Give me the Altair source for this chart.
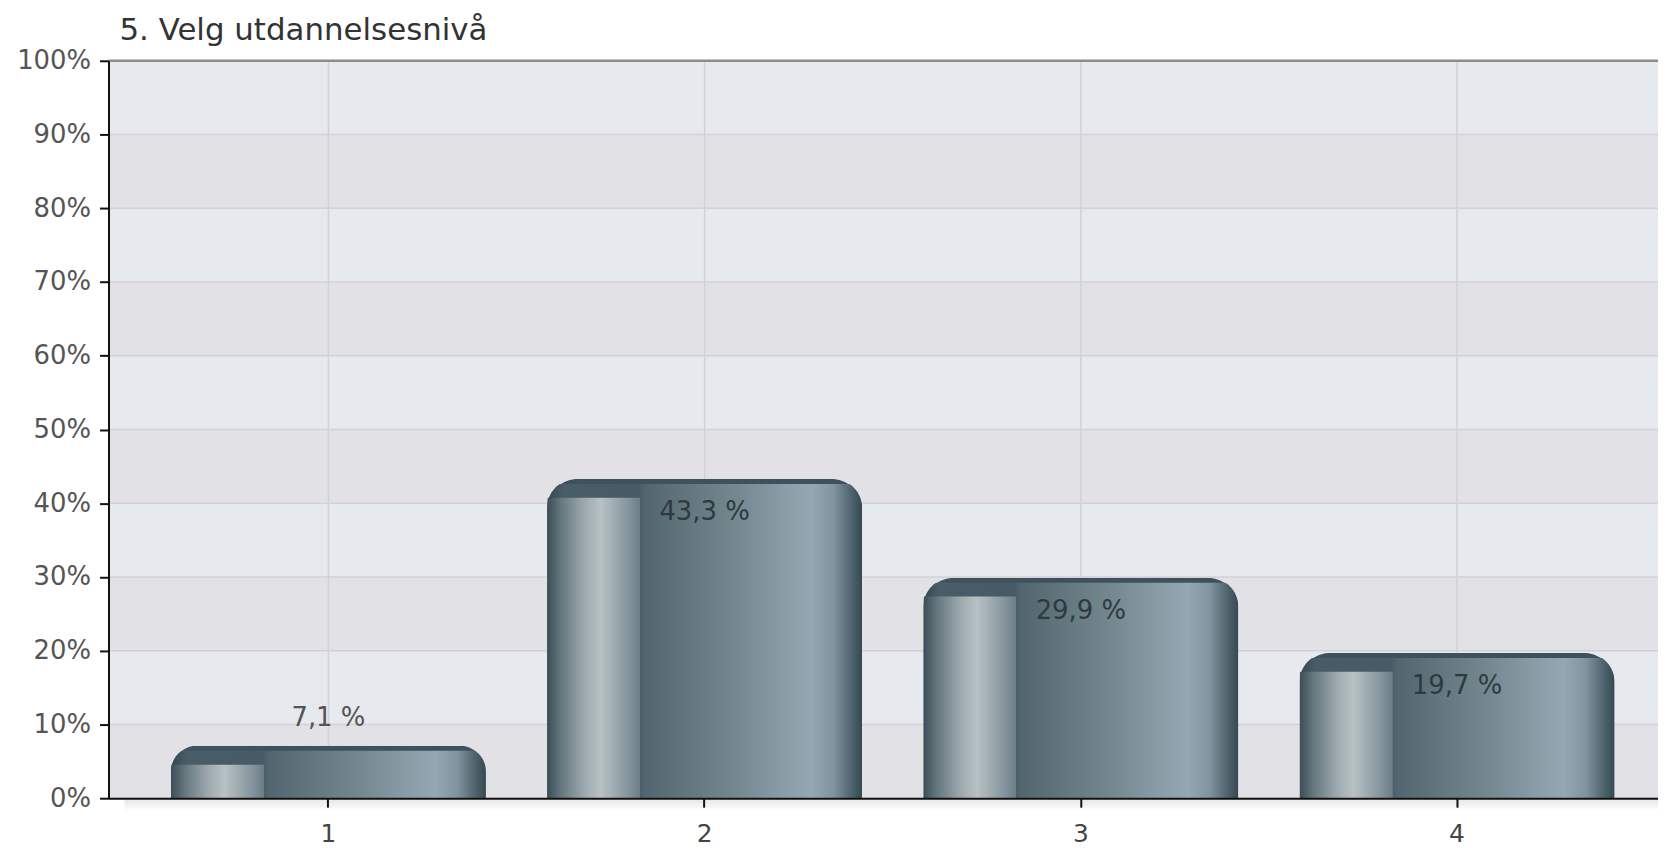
import altair as alt
import pandas as pd

# ---- data ----
categories = ["1", "2", "3", "4"]
values = [7.1, 43.3, 29.9, 19.7]
y_ticks = [0, 10, 20, 30, 40, 50, 60, 70, 80, 90, 100]
stripe_lo = [0, 10, 20, 30, 40, 50, 60, 70, 80, 90]
stripe_hi = [10, 20, 30, 40, 50, 60, 70, 80, 90, 100]
stripe_shade = ["dark", "light", "dark", "light", "dark", "light", "dark", "light", "dark", "light"]
title_text = "5. Velg utdannelsesnivå"

FONT = "DejaVu Sans"
W, H = 1557, 741

bars_df = pd.DataFrame({"cat": categories, "value": values})
stripes_df = pd.DataFrame({"lo": stripe_lo, "hi": stripe_hi, "shade": stripe_shade})
yticks_df = pd.DataFrame({"v": y_ticks})
top_df = pd.DataFrame({"v": [100]})
base_df = pd.DataFrame({"v": [0]})

xscale = alt.Scale(domain=categories, range=[0, 1576], paddingInner=0.163, paddingOuter=0.166)
yscale = alt.Scale(domain=[0, 100], nice=False, zero=True)

xaxis = alt.Axis(
    title=None, labelAngle=0, grid=False, domainColor="#111", domainWidth=2,
    tickColor="#111", tickSize=9, tickWidth=2, labelFontSize=25, labelFont=FONT,
    labelColor="#444", labelPadding=15, zindex=1, bandPosition=0.5,
)
yaxis = alt.Axis(
    title=None, values=y_ticks, labelExpr="datum.value + '%'", grid=False,
    domainColor="#111", domainWidth=2, tickColor="#111", tickSize=9, tickWidth=2,
    labelFontSize=26, labelFont=FONT, labelColor="#555", labelPadding=9, zindex=1,
)

stripes = alt.Chart(stripes_df).mark_rect().encode(
    y=alt.Y("lo:Q", scale=yscale, axis=yaxis),
    y2="hi:Q",
    x=alt.value(0),
    x2=alt.value(W),
    color=alt.Color("shade:N", scale=alt.Scale(domain=["light", "dark"], range=["#e6e9ee", "#e2e1e6"]), legend=None),
)

hgrid = alt.Chart(yticks_df).mark_rule(color="#d2d2d6", strokeWidth=1.5).encode(
    y=alt.Y("v:Q", scale=yscale),
)

vgrid = alt.Chart(bars_df).mark_rule(color="#d2d2d6", strokeWidth=1.5).encode(
    x=alt.X("cat:N", scale=xscale, sort=categories, axis=xaxis),
)

top_border = alt.Chart(top_df).mark_rule(color="#8c8c8c", strokeWidth=2.5).encode(
    y=alt.Y("v:Q", scale=yscale),
)

# soft shadow under the x axis line
shadow_grad = alt.Gradient(
    gradient="linear", x1=0, x2=0, y1=0, y2=1,
    stops=[alt.GradientStop(color="#e6e6e6", offset=0.0), alt.GradientStop(color="#ffffff", offset=1.0)],
)
axis_shadow = alt.Chart(base_df).mark_rect(color=shadow_grad, yOffset=1, y2Offset=13).encode(
    y=alt.Y("v:Q", scale=yscale),
    y2=alt.Y2("v:Q"),
    x=alt.value(16),
    x2=alt.value(W),
)

base = alt.Chart(bars_df).encode(
    x=alt.X("cat:N", scale=xscale, sort=categories),
    y=alt.Y("value:Q", scale=yscale),
)

main_grad = alt.Gradient(
    gradient="linear", x1=0, x2=1, y1=0, y2=0,
    stops=[
        alt.GradientStop(color="#34474f", offset=0.0),
        alt.GradientStop(color="#485d67", offset=0.05),
        alt.GradientStop(color="#465b65", offset=0.29),
        alt.GradientStop(color="#52666f", offset=0.31),
        alt.GradientStop(color="#63777f", offset=0.45),
        alt.GradientStop(color="#748890", offset=0.60),
        alt.GradientStop(color="#8a9ea8", offset=0.76),
        alt.GradientStop(color="#93a8b2", offset=0.84),
        alt.GradientStop(color="#7f949e", offset=0.91),
        alt.GradientStop(color="#536871", offset=0.96),
        alt.GradientStop(color="#354952", offset=1.0),
    ],
)
# lighter left "highlight" part: opaque over the left ~30% of the bar, transparent elsewhere
inner_grad = alt.Gradient(
    gradient="linear", x1=0, x2=1, y1=0, y2=0,
    stops=[
        alt.GradientStop(color="#3a4e57", offset=0.0),
        alt.GradientStop(color="#66787f", offset=0.045),
        alt.GradientStop(color="#9faaaf", offset=0.12),
        alt.GradientStop(color="#b8c2c5", offset=0.17),
        alt.GradientStop(color="#9ba8ad", offset=0.22),
        alt.GradientStop(color="#80909a", offset=0.265),
        alt.GradientStop(color="#6c7d86", offset=0.295),
        alt.GradientStop(color="rgba(108,125,134,0)", offset=0.2955),
        alt.GradientStop(color="rgba(108,125,134,0)", offset=1.0),
    ],
)

bar_dark = base.mark_bar(color="#3d525c", cornerRadiusTopLeft=31, cornerRadiusTopRight=31)
bar_main = base.mark_bar(color=main_grad, cornerRadiusTopLeft=29, cornerRadiusTopRight=29, yOffset=5)
bar_inner = base.mark_bar(color=inner_grad, yOffset=19, cornerRadiusTopLeft=24)

label_expr = "replace(format(datum.value, '.1f'), '.', ',') + ' %'"
labels_in = base.transform_filter("datum.value >= 15").transform_calculate(lbl=label_expr).mark_text(
    dy=33, baseline="middle", fontSize=26, font=FONT, color="#2f3a40"
).encode(text="lbl:N")
labels_out = base.transform_filter("datum.value < 15").transform_calculate(lbl=label_expr).mark_text(
    dy=-28, baseline="middle", fontSize=26, font=FONT, color="#555"
).encode(text="lbl:N")

chart = alt.layer(
    stripes, hgrid, vgrid, top_border, axis_shadow, bar_dark, bar_main, bar_inner, labels_in, labels_out
).properties(
    width=W, height=H,
    title=alt.TitleParams(title_text, anchor="start", frame="group", dx=11, offset=1, fontSize=31,
                          font=FONT, fontWeight="normal", color="#333"),
    autosize=alt.AutoSizeParams(type="none"),
    padding={"left": 101, "top": 51, "right": 0, "bottom": 48},
).configure_view(stroke=None).configure(background="white")

chart.save("out.html", embed_options={"renderer": "svg", "actions": False})
